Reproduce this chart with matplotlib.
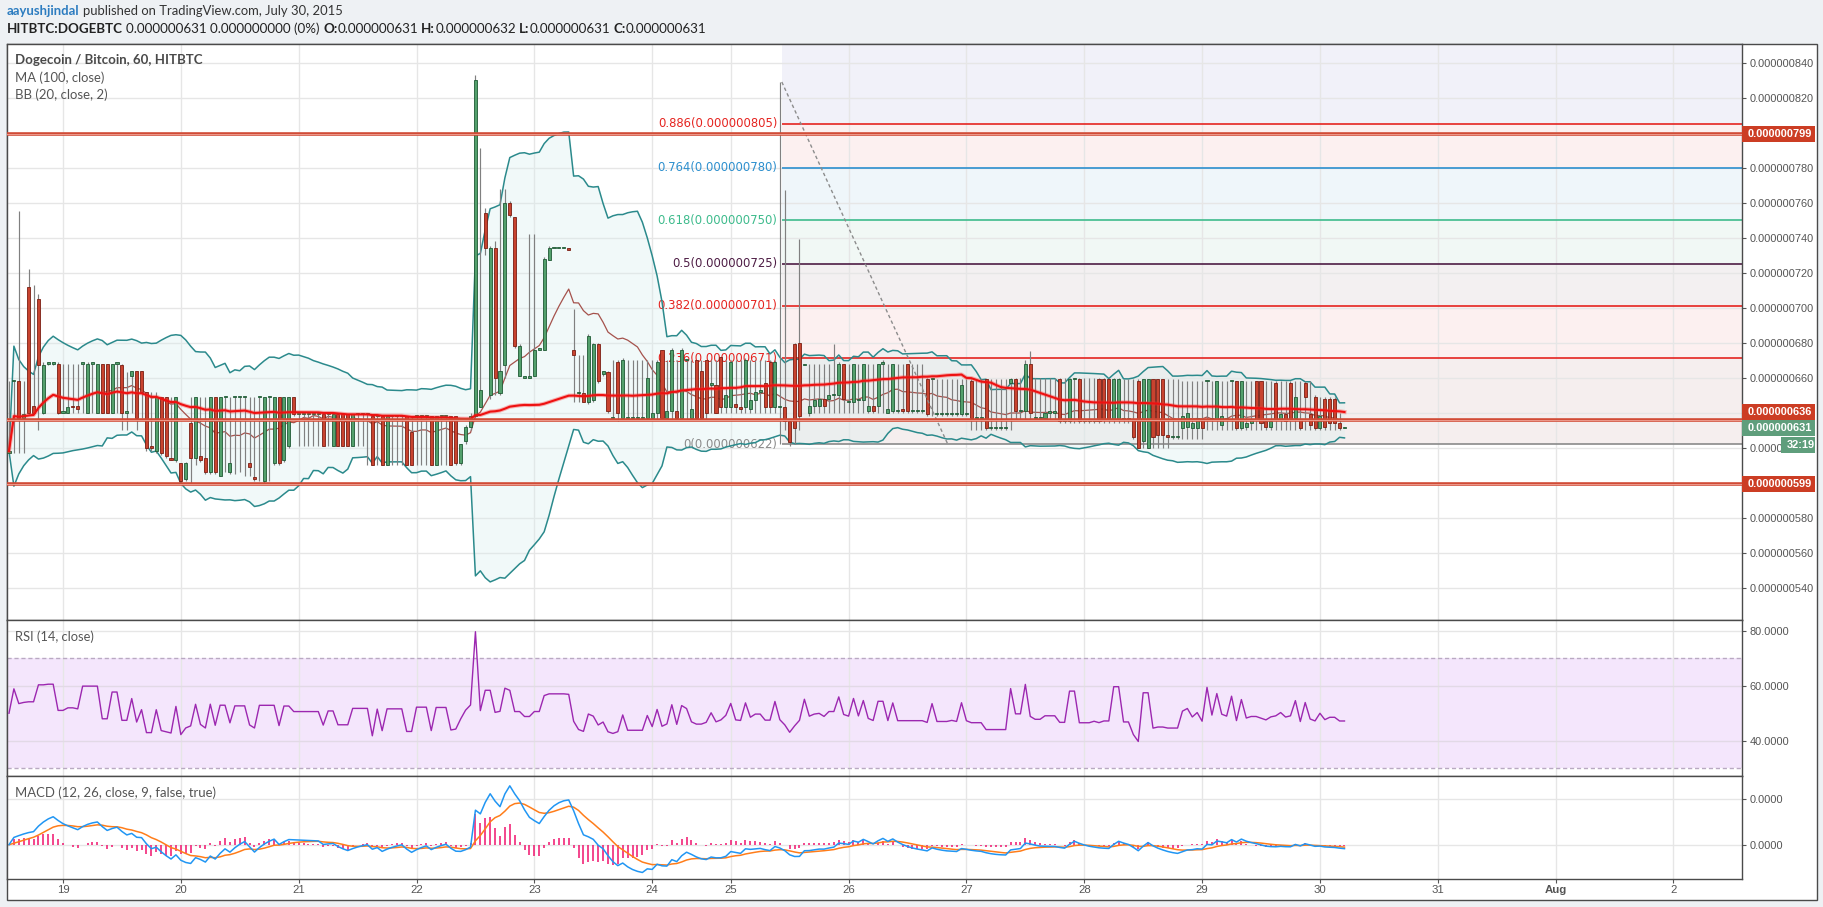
import numpy as np
import pandas as pd
import matplotlib
matplotlib.use("Agg")
import matplotlib.pyplot as plt
from matplotlib.patches import Rectangle
from matplotlib.ticker import FuncFormatter

# ---------------- data (prices in units of 1e-9 BTC, hourly bars) ----------------
open_ = [617,658,658,637,712,644,705,640,668,668,
         668,640,640,644,644,668,640,668,640,668,
         668,640,668,667,640,661,664,664,652,621,
         618,649,649,614,613,611,602,634,614,615,
         614,606,649,604,649,606,649,649,649,611,
         603,649,601,649,611,649,613,621,649,639,
         639,639,639,639,639,639,621,639,639,639,
         621,639,639,639,638,638,638,610,638,638,
         638,638,629,638,638,638,638,610,638,638,
         638,638,611,624,632,638,643,754,650,734,
         651,667,760,752,661,660,660,661,676,676,
         727,734,734,734,734,676,651,651,646,647,
         679,662,663,637,669,637,637,637,637,637,
         637,637,640,676,637,641,641,637,670,637,
         670,664,670,656,656,672,643,643,645,643,
         643,642,647,652,657,669,643,643,643,635,
         679,680,667,640,644,644,648,648,650,650,
         668,646,646,647,647,641,644,644,668,640,
         641,641,642,668,641,641,641,659,659,639,
         639,639,639,639,639,639,658,637,637,659,
         631,631,631,631,657,659,641,641,668,637,
         637,637,640,640,659,635,635,659,659,635,
         635,635,659,659,659,636,636,636,636,636,
         658,624,620,659,659,659,627,626,626,631,
         632,631,631,636,658,636,636,633,636,658,
         658,631,632,634,658,658,635,632,657,636,
         639,657,637,636,657,639,649,631,648,648,
         648,634,631]
high_ = [658,658,755,658,722,713,708,669,669,669,
         669,668,668,668,668,668,669,668,668,668,
         668,668,668,668,663,664,664,664,652,652,
         652,649,649,649,649,611,612,649,649,649,
         649,649,649,649,649,649,649,649,649,649,
         649,649,649,649,649,649,649,649,649,639,
         639,639,639,639,639,639,639,639,639,639,
         639,639,639,639,638,638,638,638,638,638,
         638,638,638,638,638,638,638,638,638,638,
         638,638,622,633,640,833,791,757,735,738,
         768,768,761,752,679,661,742,742,677,729,
         735,734,734,734,734,699,673,673,685,680,
         680,664,664,670,670,671,670,670,670,670,
         670,670,670,676,670,677,670,677,670,670,
         670,670,670,670,670,672,670,670,670,670,
         671,670,670,670,670,670,670,829,767,635,
         680,739,668,668,668,668,668,668,679,669,
         668,668,668,668,668,668,668,668,670,668,
         668,668,668,668,668,668,668,660,659,659,
         659,659,659,659,659,659,659,659,659,659,
         659,659,659,659,660,660,660,670,675,660,
         660,660,660,660,660,660,660,660,660,660,
         660,660,660,660,660,660,660,659,659,659,
         659,659,659,659,659,659,659,659,659,658,
         658,658,658,658,658,658,658,658,658,658,
         658,658,658,658,658,658,658,658,658,658,
         658,658,658,658,658,658,650,649,649,649,
         649,640,632]
low_ = [617,617,617,617,639,639,630,639,667,667,
        639,640,640,640,640,640,640,640,640,640,
        640,640,640,630,630,640,630,637,618,618,
        617,616,614,613,612,600,601,600,610,612,
        605,605,605,604,606,605,605,606,604,604,
        601,601,600,601,610,610,612,620,638,621,
        621,621,621,621,621,621,621,621,621,621,
        621,621,621,610,610,610,610,610,610,610,
        610,610,610,610,610,610,610,610,610,610,
        610,610,610,622,630,637,643,730,648,650,
        650,660,752,677,661,660,660,661,676,676,
        727,734,734,734,733,646,646,646,645,646,
        657,661,640,636,635,636,636,636,636,636,
        636,636,636,636,636,636,636,636,636,636,
        636,636,636,640,640,640,640,640,640,640,
        640,640,640,640,640,640,640,622,630,621,
        622,630,667,638,640,640,640,640,640,640,
        640,640,640,640,640,640,640,640,640,640,
        640,640,640,640,640,640,640,638,638,638,
        638,638,638,638,638,638,630,630,630,630,
        630,630,630,630,630,636,636,636,636,636,
        636,636,636,636,634,634,634,634,634,634,
        634,634,634,634,634,634,634,634,634,625,
        620,620,620,620,620,620,620,625,625,625,
        625,625,625,625,630,630,630,630,630,630,
        630,630,630,630,630,630,630,630,630,630,
        630,630,630,630,630,630,630,630,630,630,
        630,630,631]
close_ = [618,658,637,639,640,640,667,667,668,668,
          640,640,643,643,642,668,668,668,668,640,
          640,668,668,640,640,664,637,652,620,620,
          649,617,615,613,649,601,611,614,649,613,
          606,649,606,649,649,611,649,649,649,609,
          602,649,649,649,649,611,649,649,639,639,
          639,639,639,639,621,639,639,621,621,621,
          639,639,639,639,610,638,610,638,638,638,
          638,610,610,638,638,638,610,638,638,638,
          610,611,622,632,638,830,653,734,734,660,
          664,760,753,678,678,660,660,676,676,728,
          734,734,734,734,733,673,651,646,684,679,
          658,664,641,637,640,670,637,637,637,637,
          660,640,669,637,641,676,637,676,670,642,
          637,637,640,656,640,643,650,669,643,642,
          670,647,652,652,643,643,669,643,635,623,
          631,638,668,644,647,648,644,650,650,668,
          648,646,668,647,668,644,641,668,668,642,
          668,641,641,641,641,641,641,639,659,639,
          639,639,640,639,656,639,637,637,637,631,
          631,631,631,631,659,641,641,668,640,637,
          637,640,640,640,635,635,659,659,635,635,
          635,636,635,636,636,659,659,636,636,626,
          620,659,659,626,627,627,626,626,626,638,
          640,634,637,631,658,636,658,638,636,658,
          631,658,634,636,636,634,632,635,636,639,
          635,636,649,631,649,633,631,638,632,634,
          634,631,631]

day_ticks = [11, 35, 59, 83, 107, 131, 147, 171, 195, 219, 243, 267, 291, 315, 339]
day_labels = ["19", "20", "21", "22", "23", "24", "25", "26", "27", "28", "29", "30", "31", "Aug", "2"]

sr_levels = [799, 636, 599]                       # drawn horizontal lines
fib_levels = [0, 0.236, 0.382, 0.5, 0.618, 0.764, 0.886]
fib_prices = [622, 671, 701, 725, 750, 780, 805]
fib_colors = ["#8a8a8a", "#e52420", "#e52420", "#4e1d45", "#3dbb8c", "#2c8fce", "#e52420"]
fib_zone_colors = ["#f4eded", "#fcefef", "#f2eff0", "#f0f8f4", "#eef5fa", "#fcefef", "#f0f0f9"]
fib_start, fib_end = 157.4, 191.2
fib_high, fib_low = 829, 622
last_price = 631
countdown = "32:19"

header1 = ("aayushjindal", "published on TradingView.com, July 30, 2015")
header2 = [("HITBTC:DOGEBTC", "bold", False), ("0.000000631 0.000000000 (0%)", "normal", True),
           ("O:", "bold", True), ("0.000000631", "normal", False),
           ("H:", "bold", True), ("0.000000632", "normal", False),
           ("L:", "bold", True), ("0.000000631", "normal", False),
           ("C:", "bold", True), ("0.000000631", "normal", False)]

# ---------------- indicators (computed from the bars) ----------------
n = len(close_)
idx = np.arange(n)
o = np.array(open_, float); h = np.array(high_, float)
l = np.array(low_, float); c = np.array(close_, float)
cs = pd.Series(c)
ma100 = cs.rolling(100, min_periods=1).mean().to_numpy()
bb_mid = cs.rolling(20, min_periods=1).mean()
bb_sd = cs.rolling(20, min_periods=1).std(ddof=0)
bb_up = (bb_mid + 2 * bb_sd).to_numpy()
bb_lo = (bb_mid - 2 * bb_sd).to_numpy()
bb_mid = bb_mid.to_numpy()

d = np.diff(c, prepend=c[0])
gain = np.clip(d, 0, None); loss = np.clip(-d, 0, None)
ag = np.empty(n); al = np.empty(n)
seed = np.abs(d[1:]).mean() / 2
ag[0] = seed; al[0] = seed
for i in range(1, n):
    ag[i] = (ag[i - 1] * 13 + gain[i]) / 14
    al[i] = (al[i - 1] * 13 + loss[i]) / 14
rsi = 100 - 100 / (1 + ag / np.maximum(al, 1e-9))

ema12 = cs.ewm(span=12, adjust=False).mean()
ema26 = cs.ewm(span=26, adjust=False).mean()
macd = ema12 - ema26
sig = macd.ewm(span=9, adjust=False).mean()
hist = (macd - sig).to_numpy()
macd = macd.to_numpy(); sig = sig.to_numpy()

# ---------------- figure / layout ----------------
W, H = 1824, 907
fig = plt.figure(figsize=(W / 100, H / 100), dpi=100)
fig.patch.set_facecolor("#eef1f4")

def fbox(x0, y0, x1, y1):
    return [x0 / W, 1 - y1 / H, (x1 - x0) / W, (y1 - y0) / H]

PL, PR, RIGHT = 7, 1741.7, 1817
TOP, Y1, Y2, Y3, BOT = 44, 620, 775.7, 879, 900
fig.add_artist(Rectangle((PL / W, 1 - BOT / H), (RIGHT - PL) / W, (BOT - TOP) / H,
                         transform=fig.transFigure, facecolor="white",
                         edgecolor="#4a4a4a", lw=1.0, zorder=-5))

ax = fig.add_axes(fbox(PL, TOP, PR, Y1))
axr = fig.add_axes(fbox(PL, Y1, PR, Y2), sharex=ax)
axm = fig.add_axes(fbox(PL, Y2, PR, Y3), sharex=ax)

XL = (-0.405, 352.9)
MAIN_YL = (521.5, 850.7)
RSI_YL = (27.3, 83.9)
MACD_YL = (-15.0, 30.2)

GRID = "#e6e6e6"
AXC = "#555555"
TICKFONT = "Liberation Sans"

for a in (ax, axr, axm):
    a.set_facecolor("white")
    for s in a.spines.values():
        s.set_color("#4a4a4a"); s.set_linewidth(1.0)
    a.yaxis.tick_right()
    a.tick_params(axis="y", direction="out", length=3, pad=2.4, colors=AXC, labelsize=7.9)
    for t in day_ticks:
        a.axvline(t, color=GRID, lw=1, zorder=0.6)
ax.set_xlim(*XL)

# ---------------- main price pane ----------------
ax.set_ylim(*MAIN_YL)
yt = list(range(540, 841, 20))
ax.set_yticks(yt)
ax.yaxis.set_major_formatter(FuncFormatter(lambda v, p: f"{v / 1e9:.9f}"))
for v in yt:
    ax.axhline(v, color=GRID, lw=1, zorder=0.6)
ax.tick_params(axis="x", length=0, labelbottom=False)

# fib zones
zone_edges = fib_prices + [MAIN_YL[1]]
for k in range(len(fib_prices)):
    ax.add_patch(Rectangle((fib_start, zone_edges[k]), XL[1] - fib_start,
                           zone_edges[k + 1] - zone_edges[k], facecolor=fib_zone_colors[k],
                           edgecolor="none", alpha=0.9, zorder=0.5))
for lvl, pr, col in zip(fib_levels, fib_prices, fib_colors):
    ax.hlines(pr, fib_start, XL[1], color=col, lw=1.2, zorder=2)
    ax.text(fib_start - 0.95, pr, f"{lvl:g}({pr / 1e9:.9f})", ha="right", va="center",
            color=col, fontsize=8.4, family="DejaVu Sans", zorder=2.5)
ax.plot([fib_start, fib_end], [fib_high, fib_low], color="#8c8c8c", lw=1.0,
        ls=(0, (2.5, 2)), zorder=6)

# Bollinger bands
ax.fill_between(idx, bb_lo, bb_up, color="#d9eeee", alpha=0.35, lw=0, zorder=1.5)
ax.plot(idx, bb_up, color="#2b8a8c", lw=1.1, zorder=3)
ax.plot(idx, bb_lo, color="#2b8a8c", lw=1.1, zorder=3)
ax.plot(idx, bb_mid, color="#a5524c", lw=0.9, zorder=3)

# candles
up = c >= o
lo_b = np.minimum(o, c)
hgt = np.maximum(np.abs(c - o), 0.7)
ax.vlines(idx, l, h, color="#808080", lw=0.85, zorder=4)
ax.bar(idx[up], hgt[up], bottom=lo_b[up], width=0.62, color="#53a06c",
       edgecolor="#1f5a35", lw=0.6, zorder=5)
ax.bar(idx[~up], hgt[~up], bottom=lo_b[~up], width=0.62, color="#c8432f",
       edgecolor="#7a1d12", lw=0.6, zorder=5)

# MA 100
ax.plot(idx, ma100, color="#ff3030", lw=3.0, alpha=0.35, zorder=6)
ax.plot(idx, ma100, color="#ee1111", lw=1.5, zorder=6.1)

# support / resistance lines
for v in sr_levels:
    ax.axhline(v, color="#d14b36", lw=2.6, zorder=7)
    ax.axhline(v, color="#ec9a8c", lw=0.7, zorder=7.1)

# ---------------- RSI pane ----------------
axr.set_ylim(*RSI_YL)
axr.axhspan(30, 70, color="#f4e6fc", zorder=0.4, lw=0)
for v in (40, 60, 80):
    axr.axhline(v, color="#e2d9e6" if v < 70 else GRID, lw=1, zorder=0.7)
for v in (30, 70):
    axr.axhline(v, color="#b9a9c2", lw=1, ls=(0, (3, 2)), zorder=0.8)
axr.plot(idx, rsi, color="#9c27b0", lw=1.0, zorder=3)
axr.set_yticks([40, 60, 80])
axr.yaxis.set_major_formatter(FuncFormatter(lambda v, p: f"{v:.4f}"))
axr.tick_params(axis="x", length=0, labelbottom=False)

# ---------------- MACD pane ----------------
axm.set_ylim(*MACD_YL)
for v in (0, 20):
    axm.axhline(v, color=GRID, lw=1, zorder=0.7)
axm.vlines(idx, 0, hist, color="#f0146e", lw=1.1, zorder=2)
axm.plot(idx, sig, color="#ff7d1a", lw=1.1, zorder=3)
axm.plot(idx, macd, color="#2196f3", lw=1.1, zorder=3.1)
axm.set_yticks([0, 20])
axm.yaxis.set_major_formatter(FuncFormatter(lambda v, p: f"{v / 1e9:.4f}"))
axm.set_xticks(day_ticks)
axm.set_xticklabels(day_labels)
axm.tick_params(axis="x", direction="out", length=3, pad=1.6, colors=AXC, labelsize=8.2)
for lab in axm.get_xticklabels():
    lab.set_family(TICKFONT)
    if lab.get_text() == "Aug":
        lab.set_fontweight("bold")
for a in (ax, axr, axm):
    for lab in a.get_yticklabels():
        lab.set_family(TICKFONT)
axm.set_xlim(*XL)

# ---------------- price-axis labels ----------------
def ypx(v):
    return TOP + (MAIN_YL[1] - v) / (MAIN_YL[1] - MAIN_YL[0]) * (Y1 - TOP)

def pbox(yc, text, fc, x0=PR, x1=1815, hh=16):
    fig.add_artist(Rectangle((x0 / W, 1 - (yc + hh / 2) / H), (x1 - x0) / W, hh / H,
                             transform=fig.transFigure, facecolor=fc, edgecolor="none", zorder=30))
    fig.text((x0 + 5.5) / W, 1 - yc / H, text, color="white", fontsize=7.9, family=TICKFONT,
             fontweight="bold", ha="left", va="center", zorder=31)

pbox(ypx(sr_levels[0]), f"{sr_levels[0] / 1e9:.9f}", "#cc3d24")
pbox(ypx(sr_levels[1]) - 7.5, f"{sr_levels[1] / 1e9:.9f}", "#cc3d24")
pbox(ypx(last_price), f"{last_price / 1e9:.9f}", "#5f9e7c")
pbox(ypx(last_price) + 16.2, countdown, "#5f9e7c", x0=1781)
pbox(ypx(sr_levels[2]), f"{sr_levels[2] / 1e9:.9f}", "#cc3d24")

# ---------------- text runs (header & pane titles) ----------------
R = fig.canvas.get_renderer()

def space_w(size, family, weight):
    a1 = fig.text(0, 0, "n n", fontsize=size, family=family, fontweight=weight)
    a2 = fig.text(0, 0, "nn", fontsize=size, family=family, fontweight=weight)
    w = a1.get_window_extent(R).width - a2.get_window_extent(R).width
    a1.remove(); a2.remove()
    return w

def runs(x, y, parts, size, family):
    arts = []
    cur = x
    for txt, weight, color, gap in parts:
        if gap:
            cur += space_w(size, family, weight)
        t = fig.text(cur / W, 1 - y / H, txt, ha="left", va="center", fontsize=size,
                     family=family, fontweight=weight, color=color, zorder=40)
        cur += t.get_window_extent(R).width
        arts.append(t)
    return arts, cur - x

def fitted(x, y, parts, width, family="Lato", size0=9.0):
    arts, w = runs(x, y, parts, size0, family)
    for a_ in arts:
        a_.remove()
    runs(x, y, parts, size0 * width / w, family)

fitted(7, 11, [(header1[0], "bold", "#2c7cc0", False), (header1[1], "normal", "#333333", True)], 337)
fitted(7, 29, [(t, wgt, "#222222", g) for t, wgt, g in header2], 698)
fitted(15, 60, [("Dogecoin / Bitcoin, 60, HITBTC", "bold", "#4a4a4a", False)], 186)
fitted(15, 77.5, [("MA (100, close)", "normal", "#555555", False)], 89)
fitted(15, 95, [("BB (20, close, 2)", "normal", "#555555", False)], 92)
fitted(15, 637, [("RSI (14, close)", "normal", "#555555", False)], 79)
fitted(15, 793, [("MACD (12, 26, close, 9, false, true)", "normal", "#555555", False)], 200)

fig.savefig("out.png", dpi=100, facecolor=fig.get_facecolor())
